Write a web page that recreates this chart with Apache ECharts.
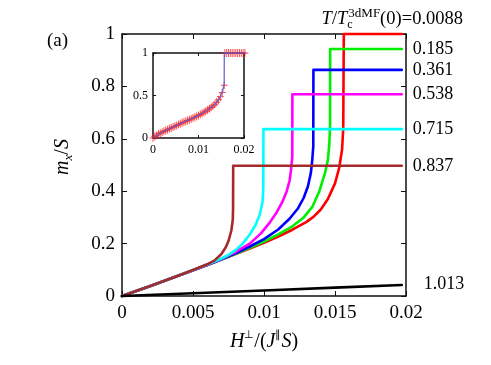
<!DOCTYPE html>
<html><head><meta charset="utf-8">
<script src="https://cdn.jsdelivr.net/npm/echarts@6/dist/echarts.min.js"></script>
<style>html,body{margin:0;padding:0;background:#fff}#c{width:491px;height:365px}</style>
</head><body><div id="c"></div>
<script>
// ---------- data ----------
const xTicks = [0, 0.005, 0.01, 0.015, 0.02];
const yTicks = [0, 0.2, 0.4, 0.6, 0.8, 1];
const tempLabels = ['0.0088', '0.185', '0.361', '0.538', '0.715', '0.837', '1.013'];
const colors = ['#ff0000', '#00ee00', '#0000ff', '#ff00ff', '#00ffff', '#a52a2a', '#000000'];

const H_red = [0, 0.001, 0.002, 0.003, 0.004, 0.005, 0.006, 0.007, 0.008, 0.009, 0.010, 0.011, 0.012, 0.013, 0.0135, 0.014, 0.0145, 0.015, 0.0153, 0.0155, 0.01558, 0.01562, 0.0197];
const M_red = [0, 0.019, 0.038, 0.058, 0.078, 0.098, 0.118, 0.139, 0.160, 0.181, 0.203, 0.227, 0.253, 0.283, 0.303, 0.330, 0.370, 0.430, 0.490, 0.560, 0.640, 1.0, 1.0];

const H_green = [0, 0.001, 0.002, 0.003, 0.004, 0.005, 0.006, 0.007, 0.008, 0.009, 0.010, 0.011, 0.012, 0.0128, 0.0134, 0.0139, 0.0143, 0.0145, 0.0146, 0.01465, 0.01466, 0.0197];
const M_green = [0, 0.019, 0.038, 0.058, 0.078, 0.098, 0.118, 0.139, 0.161, 0.184, 0.208, 0.235, 0.266, 0.300, 0.340, 0.400, 0.470, 0.520, 0.580, 0.650, 0.9425, 0.9425];

const H_blue = [0, 0.001, 0.002, 0.003, 0.004, 0.005, 0.006, 0.007, 0.008, 0.009, 0.010, 0.011, 0.0118, 0.0124, 0.0128, 0.0131, 0.0133, 0.0134, 0.01347, 0.01348, 0.0197];
const M_blue = [0, 0.019, 0.038, 0.058, 0.078, 0.098, 0.118, 0.140, 0.163, 0.189, 0.217, 0.254, 0.295, 0.335, 0.375, 0.420, 0.470, 0.520, 0.570, 0.863, 0.863];

const H_mag = [0, 0.001, 0.002, 0.003, 0.004, 0.005, 0.006, 0.007, 0.008, 0.009, 0.0098, 0.0104, 0.0109, 0.0113, 0.0116, 0.0118, 0.0119, 0.01199, 0.012, 0.0197];
const M_mag = [0, 0.019, 0.038, 0.058, 0.078, 0.098, 0.119, 0.142, 0.168, 0.200, 0.240, 0.280, 0.320, 0.360, 0.400, 0.440, 0.480, 0.530, 0.770, 0.770];

const H_cyan = [0, 0.001, 0.002, 0.003, 0.004, 0.005, 0.006, 0.007, 0.0075, 0.008, 0.0085, 0.009, 0.0094, 0.0097, 0.0099, 0.00995, 0.00996, 0.0197];
const M_cyan = [0, 0.019, 0.038, 0.058, 0.078, 0.099, 0.120, 0.143, 0.157, 0.175, 0.200, 0.235, 0.270, 0.310, 0.360, 0.410, 0.637, 0.637];

const H_brown = [0, 0.001, 0.002, 0.003, 0.004, 0.005, 0.006, 0.0065, 0.007, 0.0073, 0.0075, 0.0077, 0.0078, 0.00782, 0.00783, 0.0197];
const M_brown = [0, 0.019, 0.038, 0.058, 0.078, 0.099, 0.121, 0.135, 0.160, 0.185, 0.210, 0.250, 0.290, 0.330, 0.497, 0.497];

const H_black = [0, 0.005, 0.010, 0.015, 0.0197];
const M_black = [0, 0.0105, 0.0212, 0.0318, 0.0420];

// inset
const insetXTicks = [0, 0.01, 0.02];
const insetYTicks = [0, 0.5, 1];
const H_inset = [0, 0.0004, 0.0008, 0.0012, 0.0016, 0.002, 0.0024, 0.0028, 0.0032, 0.0036, 0.004, 0.0044, 0.0048, 0.0052, 0.0056, 0.006, 0.0064, 0.0068, 0.0072, 0.0076, 0.008, 0.0084, 0.0088, 0.0092, 0.0096, 0.010, 0.0104, 0.0108, 0.0112, 0.0116, 0.012, 0.0124, 0.0128, 0.0132, 0.0136, 0.014, 0.0144, 0.0148, 0.0152, 0.01565, 0.0158, 0.0162, 0.0166, 0.017, 0.0174, 0.0178, 0.0182, 0.0186, 0.019, 0.0194, 0.0198, 0.0202];
const M_inset = [0, 0.017, 0.033, 0.046, 0.057, 0.068, 0.078, 0.088, 0.098, 0.108, 0.118, 0.128, 0.138, 0.148, 0.158, 0.168, 0.178, 0.188, 0.197, 0.206, 0.215, 0.225, 0.235, 0.245, 0.255, 0.265, 0.277, 0.289, 0.302, 0.316, 0.330, 0.345, 0.360, 0.378, 0.398, 0.420, 0.450, 0.485, 0.535, 0.620, 1, 1, 1, 1, 1, 1, 1, 1, 1, 1, 1, 1];
const H_insetLine = [0, 0.0016, 0.004, 0.006, 0.008, 0.010, 0.012, 0.013, 0.014, 0.0148, 0.0153, 0.01565, 0.01567, 0.0202];
const M_insetLine = [0, 0.057, 0.118, 0.168, 0.215, 0.265, 0.330, 0.368, 0.420, 0.485, 0.550, 0.640, 1, 1];

// ---------- chart ----------
const FONT = 'Liberation Serif';
const zip = (a, b) => a.map((v, i) => [v, b[i]]);
const fmt = v => String(+v.toFixed(4));

function axisCommon(show, fs, tickLen, margin) {
  return {
    type: 'value',
    axisLine: { show: true, onZero: false, lineStyle: { color: '#111', width: 1.5 } },
    axisTick: { show: true, inside: true, length: tickLen, lineStyle: { color: '#111', width: 1 } },
    axisLabel: { show: show, color: '#000', fontFamily: FONT, fontSize: fs, margin: margin, formatter: fmt },
    splitLine: { show: false }
  };
}

const xAxes = [
  Object.assign(axisCommon(true, 19, 5, 8), { gridIndex: 0, min: xTicks[0], max: xTicks[xTicks.length - 1], interval: xTicks[1] - xTicks[0], position: 'bottom',
    name: '{i|H}{sup|⊥}{n|/(}{i|J}{sup|∥}{i|S}{n|)}', nameLocation: 'middle', nameGap: 34,
    nameTextStyle: { rich: {
      i: { fontFamily: FONT, fontStyle: 'italic', fontSize: 20, color: '#000', lineHeight: 24 },
      n: { fontFamily: FONT, fontSize: 20, color: '#000', lineHeight: 24 },
      sup: { fontFamily: FONT, fontSize: 11, color: '#000', verticalAlign: 'top', lineHeight: 14 }
    } } }),
  Object.assign(axisCommon(false, 19, 5, 8), { gridIndex: 0, min: xTicks[0], max: xTicks[xTicks.length - 1], interval: xTicks[1] - xTicks[0], position: 'top' }),
  Object.assign(axisCommon(true, 12, 3, 6), { gridIndex: 1, min: insetXTicks[0], max: insetXTicks[insetXTicks.length - 1], interval: insetXTicks[1] - insetXTicks[0], position: 'bottom' }),
  Object.assign(axisCommon(false, 12, 3, 6), { gridIndex: 1, min: insetXTicks[0], max: insetXTicks[insetXTicks.length - 1], interval: insetXTicks[1] - insetXTicks[0], position: 'top' })
];
const yAxes = [
  Object.assign(axisCommon(true, 19, 5, 7), { gridIndex: 0, min: yTicks[0], max: yTicks[yTicks.length - 1], interval: yTicks[1] - yTicks[0], position: 'left',
    name: '{i|m}{sub|x}{n|/}{i|S}', nameLocation: 'middle', nameGap: 47,
    nameTextStyle: { padding: [0, 0, 0, 16], rich: {
      i: { fontFamily: FONT, fontStyle: 'italic', fontSize: 20, color: '#000', lineHeight: 24 },
      n: { fontFamily: FONT, fontSize: 20, color: '#000', lineHeight: 24 },
      sub: { fontFamily: FONT, fontStyle: 'italic', fontSize: 13, color: '#000', verticalAlign: 'bottom', lineHeight: 16 }
    } } }),
  Object.assign(axisCommon(false, 19, 5, 7), { gridIndex: 0, min: yTicks[0], max: yTicks[yTicks.length - 1], interval: yTicks[1] - yTicks[0], position: 'right' }),
  Object.assign(axisCommon(true, 12, 3, 5), { gridIndex: 1, min: insetYTicks[0], max: insetYTicks[insetYTicks.length - 1], interval: insetYTicks[1] - insetYTicks[0], position: 'left' }),
  Object.assign(axisCommon(false, 12, 3, 5), { gridIndex: 1, min: insetYTicks[0], max: insetYTicks[insetYTicks.length - 1], interval: insetYTicks[1] - insetYTicks[0], position: 'right' })
];

const mainSets = [
  [H_red, M_red], [H_green, M_green], [H_blue, M_blue], [H_mag, M_mag],
  [H_cyan, M_cyan], [H_brown, M_brown], [H_black, M_black]
];

const labelStyle = { color: '#000', fontFamily: FONT, fontSize: 18 };
const series = mainSets.map((s, k) => {
  const endLabel = Object.assign({ show: k > 0, distance: 11 }, labelStyle);
  endLabel.formatter = tempLabels[k];
  endLabel.offset = k === 6 ? [11, -1] : [0, 0];
  return {
    type: 'line', xAxisIndex: 0, yAxisIndex: 0, data: zip(s[0], s[1]),
    showSymbol: false, symbol: 'none', smooth: false, clip: false,
    lineStyle: { color: colors[k], width: 2.6, join: 'round', cap: 'round' },
    endLabel: endLabel, z: 2 + k
  };
});

series.push({
  type: 'scatter', xAxisIndex: 2, yAxisIndex: 2, data: zip(H_inset, M_inset), clip: false,
  symbol: 'path://M4,0L4,8M0,4L8,4', symbolSize: [7, 8],
  itemStyle: { color: 'none', borderColor: '#ff1a1a', borderWidth: 1 }, z: 10
});
series.push({
  type: 'line', xAxisIndex: 2, yAxisIndex: 2, data: zip(H_insetLine, M_insetLine),
  showSymbol: false, symbol: 'none', clip: false,
  lineStyle: { color: '#5a5ad0', width: 1.4, opacity: 0.85 }, z: 11
});

const chart = echarts.init(document.getElementById('c'), null, { renderer: 'canvas' });
chart.setOption({
  animation: false,
  backgroundColor: '#fff',
  grid: [
    { left: 122, top: 34, width: 284, height: 262 },
    { left: 153, top: 53, width: 91, height: 85 }
  ],
  xAxis: xAxes,
  yAxis: yAxes,
  series: series,
  graphic: [
    { type: 'text', left: 47, top: 32, style: { text: '(a)', fontFamily: FONT, fontSize: 19, fill: '#000' } },
    { type: 'text', right: 28, top: 7, z: 100, style: {
      text: '{i|T}{n|/}{i|T}{sub|c}{sup|3dMF}{n|(0)=' + tempLabels[0] + '}',
      fill: '#000',
      rich: {
        i: { fontFamily: FONT, fontStyle: 'italic', fontSize: 18.5, fill: '#000', lineHeight: 24 },
        n: { fontFamily: FONT, fontSize: 18.5, fill: '#000', lineHeight: 24 },
        sub: { fontFamily: FONT, fontSize: 12, fill: '#000', verticalAlign: 'bottom', lineHeight: 14, width: 1 },
        sup: { fontFamily: FONT, fontSize: 13, fill: '#000', verticalAlign: 'top', lineHeight: 14 }
      } } }
  ]
});
</script></body></html>
